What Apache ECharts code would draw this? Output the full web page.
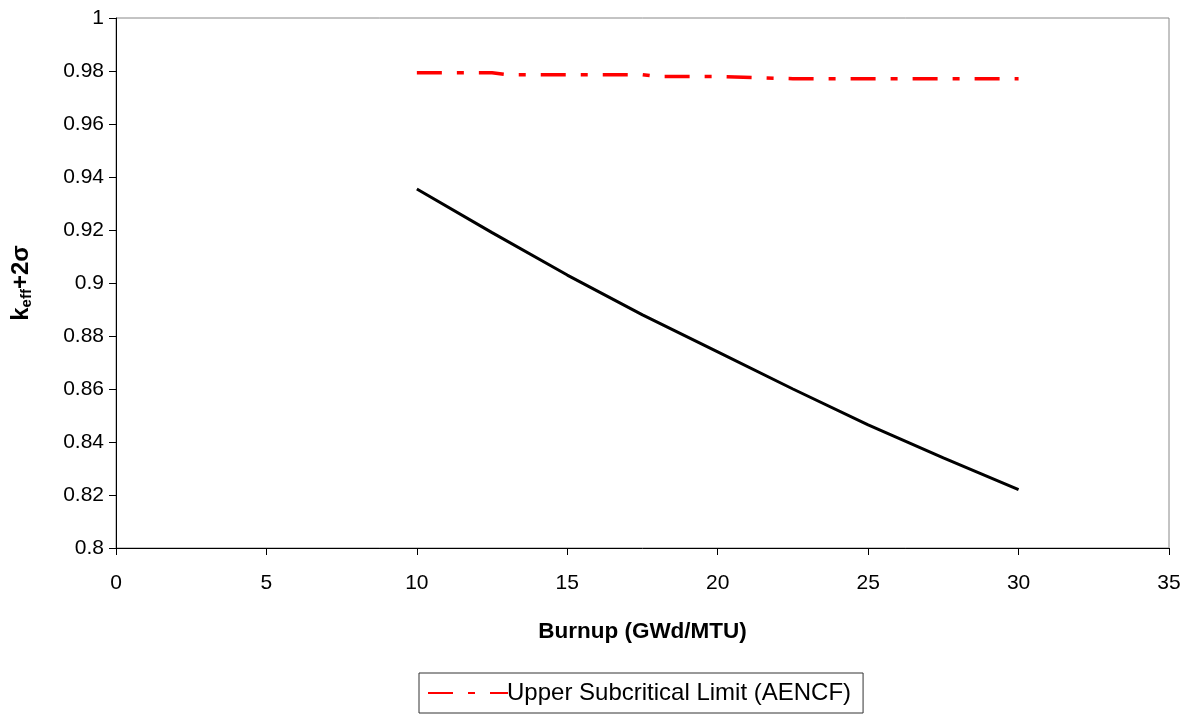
<!DOCTYPE html>
<html>
<head>
<meta charset="utf-8">
<script src="https://cdn.jsdelivr.net/npm/echarts@6/dist/echarts.min.js"></script>
<style>html,body{margin:0;padding:0;background:#fff}#c{width:1190px;height:719px}</style>
</head>
<body>
<div id="c"></div>
<script>
// Black curve (keff+2σ vs burnup)
const keffBurnup = [10, 12.5, 15, 17.5, 20, 22.5, 25, 27.5, 30];
const keffValues = [0.9355, 0.919, 0.903, 0.888, 0.874, 0.860, 0.8465, 0.834, 0.822];
// Upper Subcritical Limit (AENCF)
const uslBurnup = [10, 12.5, 13, 15, 17.5, 18, 20, 22.5, 25, 30];
const uslValues = [0.9793, 0.9793, 0.9786, 0.9786, 0.9786, 0.9779, 0.9779, 0.9771, 0.9771, 0.9771];
const uslName = 'Upper Subcritical Limit (AENCF)';
const xTitle = 'Burnup (GWd/MTU)';

const font = 'Arial, "Liberation Sans", sans-serif';
const chart = echarts.init(document.getElementById('c'));
chart.setOption({
  animation: false,
  backgroundColor: '#fff',
  grid: { left: 116, top: 18, right: 21, bottom: 171, containLabel: false, outerBoundsMode: 'none', show: true, borderColor: '#888', borderWidth: 1 },
  legend: {
    data: [uslName],
    left: 419, top: 673,
    padding: [8, 12, 8, 8],
    itemWidth: 80, itemHeight: 14, itemGap: 2,
    borderColor: '#333', borderWidth: 1,
    itemStyle: { opacity: 0 },
    textStyle: { fontFamily: font, fontSize: 24, color: '#000', padding: [0, 0, 0, -6] }
  },
  xAxis: {
    type: 'value', min: 0, max: 35, interval: 5,
    name: xTitle, nameLocation: 'middle', nameGap: 72,
    nameTextStyle: { fontFamily: font, fontSize: 22.5, fontWeight: 'bold', color: '#000' },
    axisLine: { lineStyle: { color: '#000', width: 1 } },
    axisTick: { inside: false, length: 7, lineStyle: { color: '#000' } },
    axisLabel: { fontFamily: font, fontSize: 21, color: '#000', margin: 25 },
    splitLine: { show: false }
  },
  yAxis: {
    type: 'value', min: 0.8, max: 1, interval: 0.02,
    name: '{k|k}{s|eff}{k|+2σ}', nameLocation: 'middle', nameGap: 82, nameRotate: 90,
    nameTextStyle: {
      rich: {
        k: { fontFamily: font, fontSize: 24, fontWeight: 'bold', color: '#000' },
        s: { fontFamily: font, fontSize: 15, fontWeight: 'bold', color: '#000', verticalAlign: 'bottom', padding: [10, 0, 0, 0] }
      }
    },
    axisLine: { show: true, lineStyle: { color: '#000', width: 1 } },
    axisTick: { show: true, inside: false, length: 7, lineStyle: { color: '#000' } },
    axisLabel: { fontFamily: font, fontSize: 21, color: '#000', margin: 12 },
    splitLine: { show: false }
  },
  series: [
    {
      name: 'keff', type: 'line', symbol: 'none',
      data: keffBurnup.map((x, i) => [x, keffValues[i]]),
      lineStyle: { color: '#000', width: 3 }
    },
    {
      name: uslName, type: 'line', symbol: 'none',
      data: uslBurnup.map((x, i) => [x, uslValues[i]]),
      itemStyle: { color: '#ff0000' },
      lineStyle: { color: '#ff0000', width: 3.5, type: [25, 15, 7, 15] }
    }
  ]
});
</script>
</body>
</html>
